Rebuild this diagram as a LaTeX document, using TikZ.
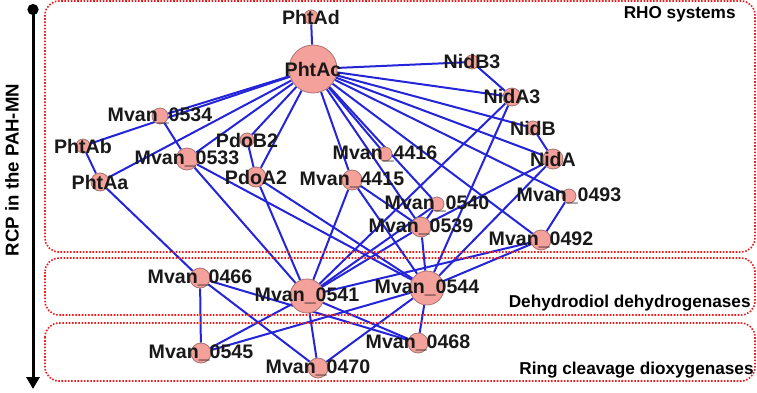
\documentclass[tikz,border=0pt]{standalone}
\usepackage{fontspec}
\setmainfont{Liberation Sans}
\usetikzlibrary{arrows.meta,backgrounds}
\definecolor{genefill}{HTML}{F4A09B}
\definecolor{geneline}{HTML}{A87472}
\definecolor{linkblue}{HTML}{2424D8}
\definecolor{framered}{HTML}{EE1C1C}
\pgfdeclarelayer{frames}
\pgfsetlayers{background,frames,main}
\tikzset{
  gene/.style={
    circle,
    draw=geneline,
    fill=genefill,
    line width=0.4pt,
    inner sep=0pt,
    minimum size=10pt
  },
  small gene/.style={gene, minimum size=7pt},
  hub gene/.style={gene, minimum size=17pt},
  top gene/.style={gene, minimum size=24pt},
  gene label/.style={
    font=\bfseries\fontsize{9.8}{10}\selectfont,
    text=black!90,
    inner sep=0pt
  },
  link/.style={draw=linkblue, line width=1pt},
  frame/.style={
    draw=framered,
    line width=0.8pt,
    dash pattern=on 0.8pt off 0.8pt,
    rounded corners=7pt
  },
  frame label/.style={
    font=\bfseries\fontsize{8.6}{9}\selectfont,
    anchor=east,
    inner sep=0pt
  },
  axis/.style={
    {Circle[length=5.5pt]}-{Triangle[length=6pt,width=6.5pt]},
    line width=1.5pt
  }
}

\begin{document}
\begin{tikzpicture}[x=0.5pt, y=-0.5pt]
\useasboundingbox (0,0) rectangle (757,392);

% RHO systems.
\node[small gene, label={[gene label]center:PhtAd}] (phtad) at (311,17) {};
\node[top gene, label={[gene label]center:PhtAc}] (phtac) at (313,69) {};
\node[small gene, label={[gene label]center:NidB3}] (nidb3) at (472,62) {};
\node[gene, minimum size=9pt, label={[gene label]center:NidA3}] (nida3) at (512,97) {};
\node[small gene, label={[gene label]center:NidB}] (nidb) at (533,128) {};
\node[gene, label={[gene label]center:NidA}] (nida) at (553,159) {};
\node[gene, minimum size=8pt, label={[gene label]center:Mvan\_0534}] (mvan0534) at (160,116) {};
\node[small gene, label={[gene label]center:PhtAb}] (phtab) at (83,146) {};
\node[gene, minimum size=9pt, label={[gene label]center:PhtAa}] (phtaa) at (100,182) {};
\node[small gene, label={[gene label]center:PdoB2}] (pdob2) at (247,140) {};
\node[gene, minimum size=11pt, label={[gene label]center:Mvan\_0533}] (mvan0533) at (187,159) {};
\node[gene, label={[gene label]center:PdoA2}] (pdoa2) at (256,177) {};
\node[small gene, label={[gene label]center:Mvan\_4416}] (mvan4416) at (385,154) {};
\node[gene, label={[gene label]center:Mvan\_4415}] (mvan4415) at (352,180) {};
\node[small gene, label={[gene label]center:Mvan\_0540}] (mvan0540) at (437,204) {};
\node[gene, label={[gene label]center:Mvan\_0539}] (mvan0539) at (421,227) {};
\node[small gene, label={[gene label]center:Mvan\_0493}] (mvan0493) at (569,196) {};
\node[gene, label={[gene label]center:Mvan\_0492}] (mvan0492) at (541,240) {};

% Dehydrodiol dehydrogenases.
\node[gene, label={[gene label]center:Mvan\_0466}] (mvan0466) at (200,278) {};
\node[hub gene, label={[gene label]center:Mvan\_0541}] (mvan0541) at (307,296) {};
\node[hub gene, label={[gene label]center:Mvan\_0544}] (mvan0544) at (427,288) {};

% Ring cleavage dioxygenases.
\node[gene, label={[gene label]center:Mvan\_0545}] (mvan0545) at (201,353) {};
\node[gene, label={[gene label]center:Mvan\_0470}] (mvan0470) at (318,368) {};
\node[gene, label={[gene label]center:Mvan\_0468}] (mvan0468) at (418,343) {};

% Interactions.
\begin{scope}[on background layer]
  \foreach \a/\b in {phtac/phtad, phtac/nidb3, phtac/nida3, phtac/nidb,
      phtac/nida, phtac/mvan0493, phtac/mvan0492, phtac/mvan0540,
      phtac/mvan0539, phtac/mvan4416, phtac/mvan4415, phtac/pdoa2,
      phtac/pdob2, phtac/mvan0533, phtac/mvan0534, phtac/phtab, phtac/phtaa,
      nidb3/nida3, nidb/nida, mvan0493/mvan0492, pdob2/pdoa2,
      mvan0534/mvan0533, phtab/phtaa, phtaa/mvan0466, mvan0540/mvan0539,
      nida3/mvan0541, nida3/mvan0544, nida/mvan0539, nida/mvan0544,
      mvan0533/mvan0541, mvan0533/mvan0544, pdoa2/mvan0541, pdoa2/mvan0544,
      mvan4415/mvan0541, mvan4415/mvan0544, mvan4415/mvan0539,
      mvan0540/mvan0541, mvan0539/mvan0541, mvan0539/mvan0544,
      mvan0492/mvan0541, mvan0492/mvan0544,
      mvan0466/mvan0545, mvan0466/mvan0470, mvan0466/mvan0468,
      mvan0545/mvan0541, mvan0545/mvan0544, mvan0541/mvan0470,
      mvan0541/mvan0468, mvan0544/mvan0470, mvan0544/mvan0468}
    \draw[link] (\a) -- (\b);
\end{scope}

% Class frames.
\begin{pgfonlayer}{frames}
  \draw[frame] (45,1) rectangle (755,252);
  \draw[frame] (45,258) rectangle (755,315);
  \draw[frame] (45,323) rectangle (755,381);
\end{pgfonlayer}
\node[frame label] (rho) at (736,14) {RHO systems};
\node[frame label] (dhd) at (751,303) {Dehydrodiol dehydrogenases};
\node[frame label] (rcd) at (754,370) {Ring cleavage dioxygenases};

% RCP axis.
\coordinate (axtop) at (33,4);
\coordinate (axbot) at (33,389);
\draw[axis] (axtop) -- (axbot);
\node[rotate=90, font=\bfseries\fontsize{9.3}{10}\selectfont, inner sep=0pt]
  (rcp) at (12,170) {RCP in the PAH-MN};

\end{tikzpicture}
\end{document}
